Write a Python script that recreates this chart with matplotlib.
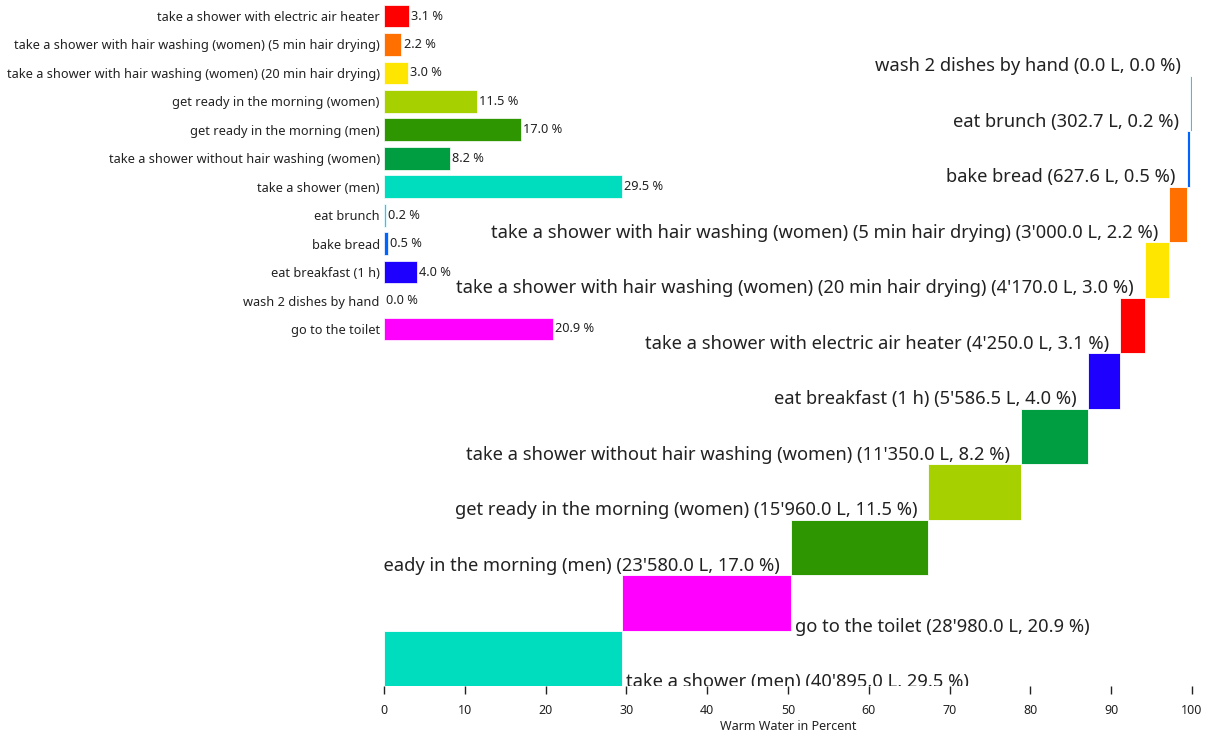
import matplotlib.pyplot as plt

plt.rcParams['font.family'] = ['Noto Sans', 'DejaVu Sans']

# activities, warm water in litres, colours
ACTIVITIES = [
    "take a shower with electric air heater",
    "take a shower with hair washing (women) (5 min hair drying)",
    "take a shower with hair washing (women) (20 min hair drying)",
    "get ready in the morning (women)",
    "get ready in the morning (men)",
    "take a shower without hair washing (women)",
    "take a shower (men)",
    "eat brunch",
    "bake bread",
    "eat breakfast (1 h)",
    "wash 2 dishes by hand",
    "go to the toilet",
]
LITRES = [4250.0, 3000.0, 4170.0, 15960.0, 23580.0, 11350.0,
          40895.0, 302.7, 627.6, 5586.5, 0.0, 28980.0]
COLORS = ["#ff0000", "#ff7000", "#ffe600", "#a6d000", "#2e9600", "#009e40",
          "#00dcbe", "#28c8f5", "#0064ff", "#1e00ff", "#00b4ff", "#ff00ff"]

total = sum(LITRES)
percent = [v / total * 100 for v in LITRES]

fig = plt.figure(figsize=(12.14, 7.38), dpi=100)
ax = fig.add_axes([384 / 1214, 52 / 738, 808 / 1214, 666 / 738])
ax2 = fig.add_axes([384 / 1214, (738 - 343.2) / 738, 808 / 1214, 341.4 / 738])

# cascade, smallest on top
order = sorted(range(len(ACTIVITIES)), key=lambda i: percent[i])
n = len(order)
start = 0.0
for row in range(n - 1, -1, -1):
    i = order[row]
    p = percent[i]
    ax.barh(row, p, left=start, height=1.0, color=COLORS[i],
            edgecolor="white", linewidth=0.6)
    litres = f"{LITRES[i]:,.1f}".replace(",", "'")
    label = f"{ACTIVITIES[i]} ({litres} L, {p:.1f} %)"
    if start > 40:
        ax.annotate(label, (start, row + 0.33), xytext=(-8, 0),
                    textcoords="offset points", ha="right", va="center",
                    fontsize=13.2, color="#222222", annotation_clip=False,
                    clip_on=True)
    else:
        ax.annotate(label, (start + p, row + 0.43), xytext=(3, 0),
                    textcoords="offset points", ha="left", va="center",
                    fontsize=13.2, color="#222222", annotation_clip=False,
                    clip_on=True)
    start += p

ax.set_xlim(0, 100)
ax.set_ylim(n - 0.5, -0.5)
ax.set_yticks([])
ax.set_xticks(range(0, 101, 10))
ax.tick_params(axis="x", length=6, width=1, labelsize=9, colors="#222222", pad=7)
ax.set_xlabel("Warm Water in Percent", fontsize=9, color="#222222", labelpad=2)
for s in ax.spines.values():
    s.set_visible(False)

# small bar chart in the corner
ax2.patch.set_visible(False)
for i, p in enumerate(percent):
    ax2.barh(i, p, height=0.8, color=COLORS[i], edgecolor="white", linewidth=0.5)
    ax2.annotate(f"{p:.1f} %", (p, i), xytext=(1.5, 0), textcoords="offset points",
                 ha="left", va="center", fontsize=9.2, color="#222222")
ax2.set_xlim(0, 100)
ax2.set_ylim(len(percent) - 0.5, -0.5)
ax2.set_yticks(range(len(ACTIVITIES)))
ax2.set_yticklabels(ACTIVITIES, fontsize=9.2, color="#222222")
ax2.tick_params(axis="y", length=0, pad=3)
ax2.set_xticks([])
for s in ax2.spines.values():
    s.set_visible(False)

fig.savefig("out.png", dpi=100)
